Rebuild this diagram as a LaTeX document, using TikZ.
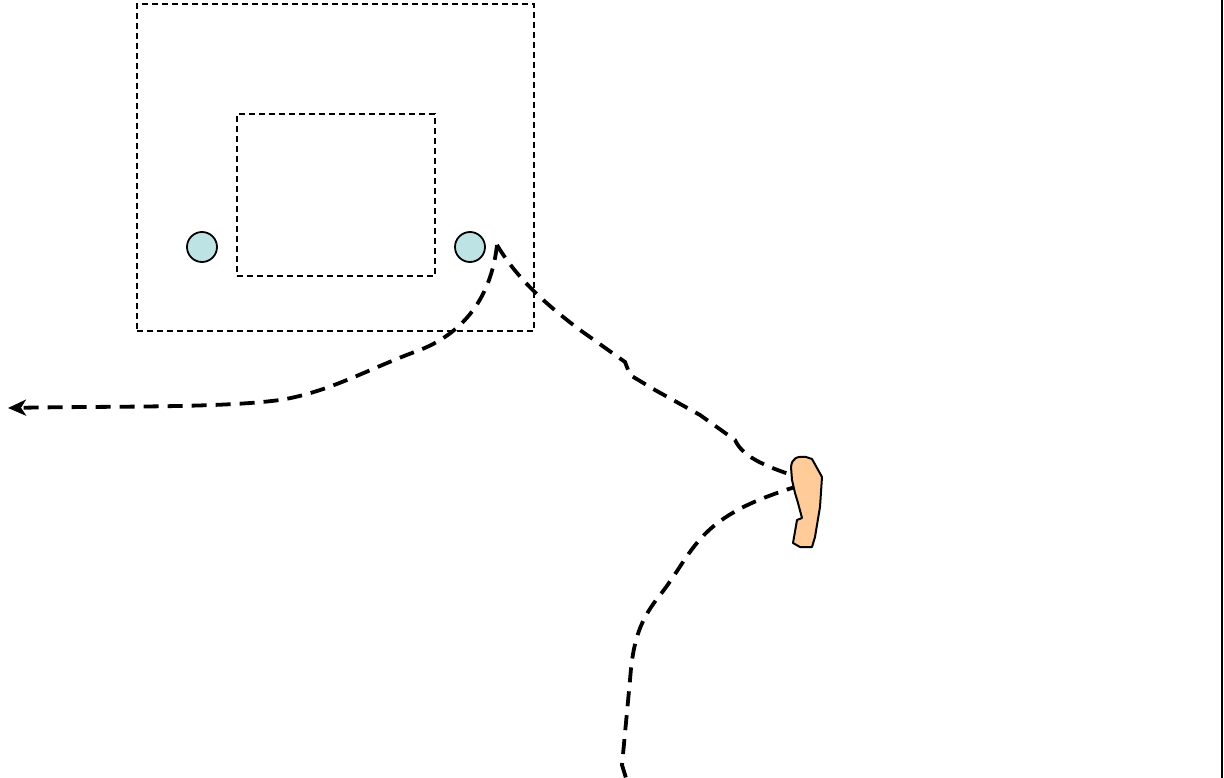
\documentclass[tikz,border=0pt]{standalone}
\usetikzlibrary{arrows.meta}
\definecolor{teal1}{RGB}{189,227,229}
\definecolor{peach}{RGB}{255,204,153}
\begin{document}
\begin{tikzpicture}[x=1pt,y=-1pt,
  thindash/.style={draw=black,line width=1.7pt,dash pattern=on 6pt off 4pt},
  track/.style={draw=black,line width=3.8pt,dash pattern=on 15pt off 9pt},
  post/.style={circle,draw=black,line width=1.8pt,fill=teal1,minimum size=30pt,inner sep=0pt}]
\useasboundingbox (0,0) rectangle (1224,778);
\fill[white] (0,0) rectangle (1224,778);
\node[draw=none,thindash,minimum width=397pt,minimum height=327pt,inner sep=0pt] (outer) at (335.5,167.5) {};
\node[draw=none,thindash,minimum width=198pt,minimum height=162pt,inner sep=0pt] (inner) at (336,195) {};
\node[post] (c1) at (202,247) {};
\node[post] (c2) at (470,247) {};
\draw[line width=2.5pt] (1222,0) -- (1222,778);
\coordinate (start) at (497,245);
\coordinate (tip) at (8,408);
\coordinate (ear1) at (798,477);
\coordinate (ear2) at (801,485);
\coordinate (bottom) at (626,778);
\draw[track,-{Stealth[length=18pt,width=16pt,inset=5pt]}] (start) .. controls (492,290) and (470,330) .. (420,350)
  .. controls (370,368) and (330,392) .. (280,400)
  .. controls (220,408) and (120,406) .. (tip);
\draw[track] (start) .. controls (515,275) and (540,300) .. (580,330)
  -- (625,362) -- (630,375) -- (655,390) -- (700,415) -- (735,440)
  .. controls (742,455) and (760,465) .. (ear1);
\draw[track] (ear2) .. controls (770,495) and (740,505) .. (715,525)
  .. controls (690,545) and (680,570) .. (660,595)
  .. controls (640,620) and (633,640) .. (630,680)
  -- (622,765) -- (bottom);
\draw[line width=2pt,fill=peach,line join=round]
  (791,467) .. controls (792,458) and (797,456) .. (806,457) -- (812,459) -- (822,477)
  -- (820,507) -- (815,537) -- (812,547) -- (800,547) -- (793,543) -- (797,520) -- (802,518)
  -- (798,503) -- (795,493) -- (792,480) -- cycle;
\end{tikzpicture}
\end{document}
